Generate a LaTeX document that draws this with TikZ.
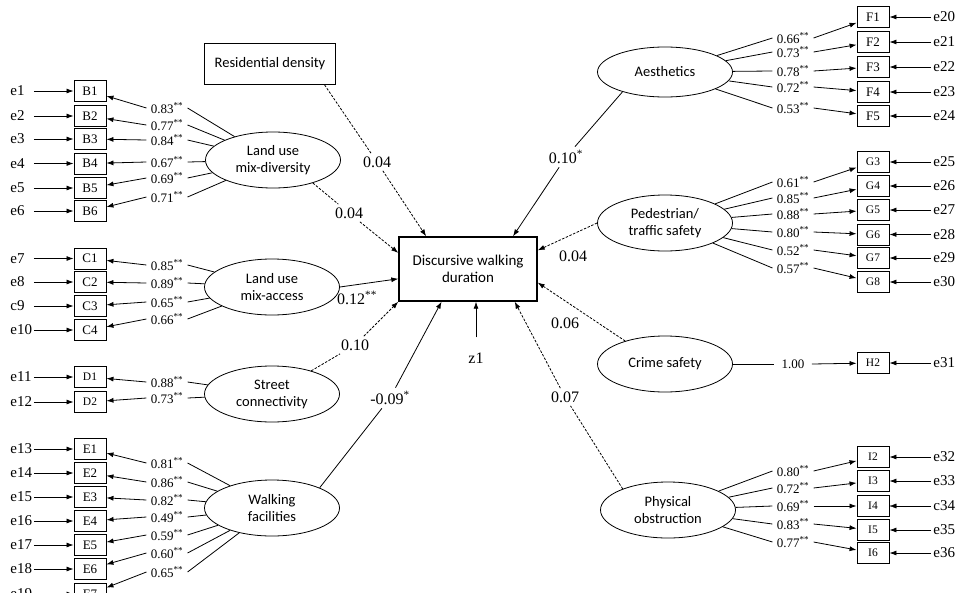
\documentclass[tikz,border=0pt]{standalone}
\usepackage{fontspec}
\setmainfont{Liberation Serif}
\newfontfamily\calibri{Carlito}
\usetikzlibrary{shapes.geometric,arrows.meta}
\tikzset{%
  every indicator/.style={
    rectangle,
    draw,
    line width=0.9pt,
    minimum width=32pt,
    minimum height=21pt,
    inner sep=0pt,
    font=\fontsize{13}{13}\selectfont
  },
  indicator small/.style={
    font=\fontsize{11.5}{11.5}\selectfont
  },
  indicator D/.style={indicator small},
  indicator G/.style={indicator small},
  indicator H/.style={indicator small},
  indicator I/.style={indicator small},
  arrow I4/.style={line width=0.3pt},
  every latent/.style={
    ellipse,
    draw,
    line width=0.8pt,
    minimum width=135pt,
    minimum height=56pt,
    inner sep=0pt,
    align=center,
    font=\calibri\fontsize{14.5}{17}\selectfont
  },
  observed/.style={
    rectangle,
    draw,
    line width=0.9pt,
    minimum width=131pt,
    minimum height=41pt,
    font=\calibri\fontsize{14.5}{17}\selectfont
  },
  outcome/.style={
    rectangle,
    draw,
    line width=1.4pt,
    minimum width=138pt,
    minimum height=64pt,
    align=center,
    font=\calibri\fontsize{15}{17}\selectfont
  },
  error term/.style={
    anchor=west,
    text width=21pt,
    inner sep=2pt,
    align=left,
    font=\fontsize{15}{15}\selectfont
  },
  loading/.style={
    inner sep=4pt,
    font=\fontsize{13}{13}\selectfont
  },
  path label/.style={
    inner sep=3pt,
    font=\fontsize{16}{16}\selectfont
  },
  insig/.style={dash pattern=on 2.5pt off 1.5pt},
}

\begin{document}
\begin{tikzpicture}[x=1pt, y=-1pt, >={Latex[length=7pt,width=5pt]}, line width=0.8pt]
        \useasboundingbox (0,0) rectangle (958,592);
        \clip (0,0) rectangle (958,592);

        \node [outcome] (dur) at (468,269) {Discursive walking\\duration};
        \node [observed] (res) at (270,64) {Residential density};
        \node [every latent] (div) at (273,160) {Land use\\mix-diversity};
        \node [every latent] (acc) at (272,287) {Land use\\mix-access};
        \node [every latent] (con) at (272,394) {Street\\connectivity};
        \node [every latent] (walk) at (272,508) {Walking\\facilities};
        \node [every latent, minimum height=50pt] (aes) at (665,72) {Aesthetics};
        \node [every latent] (ped) at (665,223) {Pedestrian/\\traffic safety};
        \node [every latent] (crime) at (665,364) {Crime safety};
        \node [every latent] (phys) at (668,510) {Physical\\obstruction};

        \foreach \lat/\g/\i/\e/\yb/\yl/\val in {div/B/1/e1/91/108/0.83, div/B/2/e2/116/125/0.77,
            div/B/3/e3/139/140/0.84, div/B/4/e4/163.5/162/0.67, div/B/5/e5/188/178/0.69,
            div/B/6/e6/211/197/0.71, acc/C/1/e7/258.5/265/0.85, acc/C/2/e8/282/283/0.89,
            acc/C/3/c9/306/302/0.65, acc/C/4/e10/330/319/0.66, con/D/1/e11/377/382/0.88,
            con/D/2/e12/402/398/0.73, walk/E/1/e13/449/463/0.81, walk/E/2/e14/473/482/0.86,
            walk/E/3/e15/497/500/0.82, walk/E/4/e16/521/517/0.49, walk/E/5/e17/545/535/0.59,
            walk/E/6/e18/569/553/0.60, walk/E/7/e19/594/572/0.65}{
          \node [every indicator, indicator \g/.try] (\g\i) at (90,\yb) {\g\i};
          \node [error term] (err-\g\i) at (8,\yb) {\e};
          \node [loading] (load-\g\i) at (167,\yl) {\val\textsuperscript{**}};
          \draw [->] (err-\g\i) -- (\g\i);
          \draw [->] (load-\g\i.west) -- (\g\i);
          \draw (\lat) -- (load-\g\i.east);
        }

        \foreach \lat/\g/\i/\e/\yb/\yl/\val in {aes/F/1/e20/17/38/0.66, aes/F/2/e21/42/52/0.73,
            aes/F/3/e22/67/71/0.78, aes/F/4/e23/92/87/0.72, aes/F/5/e24/116/108/0.53,
            ped/G/3/e25/162/182/0.61, ped/G/4/e26/186/198/0.85, ped/G/5/e27/210/214/0.88,
            ped/G/6/e28/234.5/232/0.80, ped/G/7/e29/258/250/0.52, ped/G/8/e30/282/268/0.57,
            phys/I/2/e32/457/471/0.80, phys/I/3/e33/481/488/0.72, phys/I/4/c34/506/506/0.69,
            phys/I/5/e35/530/524/0.83, phys/I/6/e36/553/542/0.77}{
          \node [every indicator, indicator \g/.try] (\g\i) at (873,\yb) {\g\i};
          \node [error term] (err-\g\i) at (931,\yb) {\e};
          \node [loading] (load-\g\i) at (793,\yl) {\val\textsuperscript{**}};
          \draw [->, arrow \g\i/.try] (err-\g\i) -- (\g\i);
          \draw [->] (load-\g\i.east) -- (\g\i);
          \draw (\lat) -- (load-\g\i.west);
        }

        \node [every indicator, indicator H/.try] (H2) at (873,363) {H2};
        \node [error term] (err-H2) at (931,363) {e31};
        \node [loading, inner sep=7pt] (load-H2) at (793,364) {1.00};
        \draw [->] (err-H2) -- (H2);
        \draw [->] (load-H2.east) -- (H2);
        \draw (crime) -- (load-H2.west);

        \node [path label] (lres) at (377,162) {0.04};
        \draw [insig] (res.-21.5) -- (lres);
        \draw [insig, ->] (lres) -- (dur.142);

        \node [path label] (ldiv) at (349,213) {0.04};
        \draw [insig] (div.-30) -- (ldiv);
        \draw [insig, ->] (ldiv) -- (dur.167);

        \node [path label] (lacc) at (357,298) {0.12\textsuperscript{**}};
        \draw [->] (acc.east) -- (dur.188);

        \node [path label] (lcon) at (355,345) {0.10};
        \draw [insig] (con) -- (lcon);
        \draw [insig, ->] (lcon) -- (dur.south west);

        \node [path label] (lwalk) at (390,398) {-0.09\textsuperscript{*}};
        \draw (walk.23) -- (lwalk);
        \draw [->] (lwalk) -- (dur.231);

        \node [path label] (laes) at (566,157) {0.10\textsuperscript{*}};
        \draw (aes.205) -- (laes);
        \draw [->] (laes) -- (dur.36);

        \node [path label] (lped) at (573,256) {0.04};
        \draw [insig, ->] (ped.west) -- (dur.15);

        \node [path label] (lcrime) at (565,323) {0.06};
        \draw [insig, ->] (crime.150) -- (dur.-11);

        \node [path label] (lphys) at (565,397) {0.07};
        \draw [insig] (phys.155) -- (lphys);
        \draw [insig, ->] (lphys) -- (dur.-35);

        \node [path label] (z) at (476,358) {z1};
        \draw [->] ([yshift=12pt]z.north) -- (z |- dur.south);
\end{tikzpicture}
\end{document}
